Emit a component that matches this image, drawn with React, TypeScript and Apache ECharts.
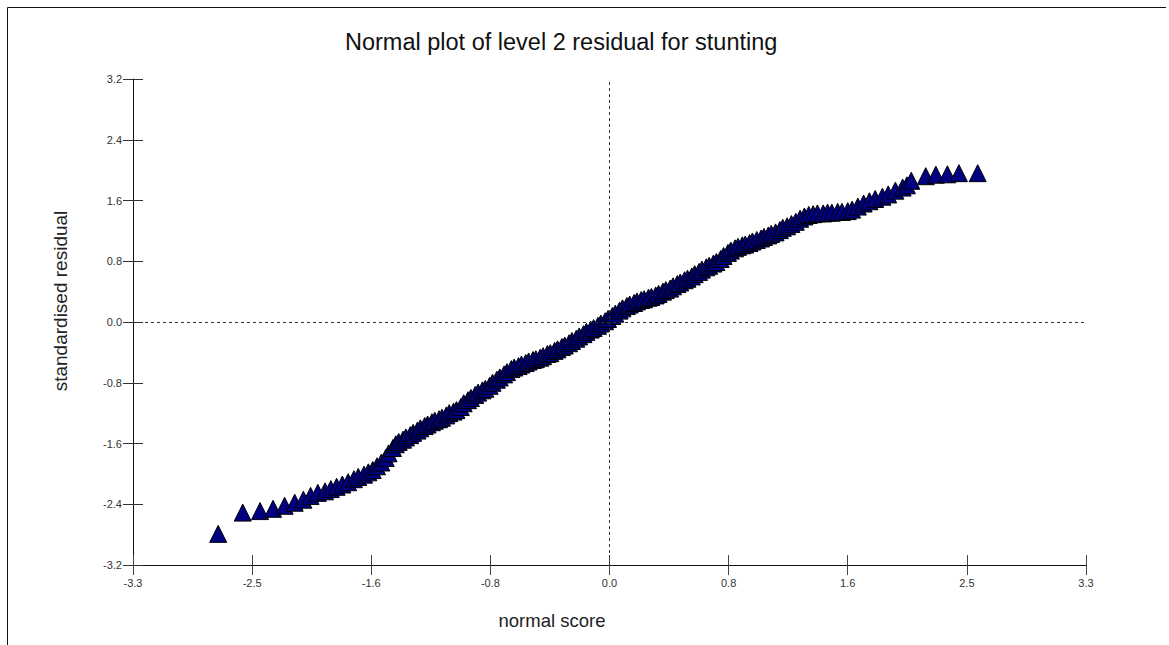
import React, { useEffect, useRef } from "react";
import * as echarts from "echarts";

// Normal scores (x) and standardised level 2 residuals (y), ordered by rank
const normalScores = [
  -2.71, -2.54, -2.42, -2.33, -2.25, -2.18, -2.12, -2.07, -2.02, -1.97,
  -1.93, -1.89, -1.85, -1.81, -1.77, -1.74, -1.7, -1.67, -1.64, -1.61,
  -1.58, -1.55, -1.53, -1.5, -1.48, -1.46, -1.43, -1.41, -1.38, -1.36,
  -1.33, -1.31, -1.28, -1.26, -1.23, -1.21, -1.18, -1.16, -1.13, -1.11,
  -1.08, -1.06, -1.03, -1.01, -0.98, -0.96, -0.93, -0.91, -0.88, -0.86,
  -0.83, -0.81, -0.78, -0.76, -0.73, -0.71, -0.68, -0.66, -0.63, -0.61,
  -0.58, -0.56, -0.53, -0.51, -0.48, -0.46, -0.43, -0.41, -0.38, -0.36,
  -0.33, -0.31, -0.28, -0.26, -0.23, -0.21, -0.18, -0.16, -0.13, -0.11,
  -0.08, -0.06, -0.03, -0.01, 0.02, 0.04, 0.07, 0.09, 0.12, 0.14,
  0.17, 0.19, 0.22, 0.24, 0.27, 0.29, 0.32, 0.34, 0.37, 0.39,
  0.42, 0.44, 0.47, 0.49, 0.52, 0.54, 0.57, 0.59, 0.62, 0.64,
  0.67, 0.69, 0.72, 0.74, 0.77, 0.79, 0.82, 0.84, 0.87, 0.89,
  0.92, 0.94, 0.97, 0.99, 1.02, 1.05, 1.07, 1.1, 1.12, 1.15,
  1.18, 1.2, 1.23, 1.26, 1.29, 1.32, 1.35, 1.38, 1.41, 1.44,
  1.48, 1.51, 1.54, 1.58, 1.61, 1.65, 1.68, 1.72, 1.76, 1.8,
  1.84, 1.89, 1.93, 1.98, 2.03, 2.06, 2.09, 2.19, 2.26, 2.34,
  2.42, 2.55,
];

const residuals = [
  -2.79, -2.51, -2.49, -2.46, -2.42, -2.38, -2.34, -2.29, -2.25, -2.23,
  -2.2, -2.17, -2.14, -2.11, -2.07, -2.04, -2.01, -1.98, -1.95, -1.9,
  -1.85, -1.79, -1.73, -1.66, -1.61, -1.58, -1.55, -1.52, -1.49, -1.46,
  -1.43, -1.4, -1.37, -1.35, -1.32, -1.3, -1.28, -1.26, -1.23, -1.2,
  -1.18, -1.16, -1.12, -1.07, -1.03, -1.0, -0.96, -0.93, -0.9, -0.88,
  -0.84, -0.8, -0.76, -0.73, -0.69, -0.66, -0.62, -0.6, -0.58, -0.56,
  -0.54, -0.52, -0.5, -0.49, -0.47, -0.45, -0.42, -0.41, -0.38, -0.36,
  -0.33, -0.31, -0.28, -0.25, -0.22, -0.19, -0.16, -0.13, -0.1, -0.08,
  -0.05, -0.02, 0.01, 0.04, 0.08, 0.11, 0.15, 0.18, 0.21, 0.23,
  0.25, 0.27, 0.29, 0.3, 0.32, 0.33, 0.35, 0.37, 0.4, 0.42,
  0.44, 0.47, 0.5, 0.52, 0.55, 0.57, 0.6, 0.63, 0.66, 0.69,
  0.72, 0.74, 0.77, 0.79, 0.83, 0.87, 0.91, 0.94, 0.97, 0.99,
  1.01, 1.02, 1.04, 1.06, 1.08, 1.1, 1.12, 1.14, 1.16, 1.18,
  1.21, 1.24, 1.26, 1.29, 1.32, 1.36, 1.39, 1.41, 1.42, 1.43,
  1.43, 1.44, 1.44, 1.45, 1.45, 1.46, 1.48, 1.52, 1.56, 1.59,
  1.62, 1.65, 1.68, 1.73, 1.77, 1.8, 1.86, 1.92, 1.94, 1.945,
  1.96, 1.96,
];

const xTickLabels = ["-3.3", "-2.5", "-1.6", "-0.8", "0.0", "0.8", "1.6", "2.5", "3.3"];
const yTickLabels = ["-3.2", "-2.4", "-1.6", "-0.8", "0.0", "0.8", "1.6", "2.4", "3.2"];

const X_MIN = -3.3;
const X_MAX = 3.3;
const X_STEP = 0.825;
const Y_MIN = -3.2;
const Y_MAX = 3.2;
const Y_STEP = 0.8;

const FONT = "'Liberation Sans', Arial, Helvetica, sans-serif";

export default function App() {
  const ref = useRef<HTMLDivElement>(null);

  useEffect(() => {
    if (!ref.current) return;
    const chart = echarts.init(ref.current, undefined, { renderer: "svg" });

    const points = normalScores.map((x, i) => [x, residuals[i]]);
    const xLabel = (v: number) => xTickLabels[Math.round((v - X_MIN) / X_STEP)] ?? "";
    const yLabel = (v: number) => yTickLabels[Math.round((v - Y_MIN) / Y_STEP)] ?? "";

    const baseX = {
      type: "value" as const,
      min: X_MIN,
      max: X_MAX,
      interval: X_STEP,
      position: "bottom" as const,
      splitLine: { show: false },
    };
    const baseY = {
      type: "value" as const,
      min: Y_MIN,
      max: Y_MAX,
      interval: Y_STEP,
      position: "left" as const,
      splitLine: { show: false },
    };

    chart.setOption({
      animation: false,
      backgroundColor: "#ffffff",
      title: {
        text: "Normal plot of level 2 residual for stunting",
        left: 345,
        top: 30,
        padding: 0,
        textStyle: {
          fontFamily: FONT,
          fontSize: 23.5,
          fontWeight: "normal",
          color: "#111111",
        },
      },
      grid: { left: 133, right: 83, top: 79, bottom: 80, containLabel: false },
      xAxis: [
        {
          ...baseX,
          axisLine: { show: true, onZero: false, lineStyle: { color: "#111111", width: 1 } },
          axisTick: { show: true, inside: false, length: 10, lineStyle: { color: "#444444" } },
          axisLabel: {
            show: true,
            margin: 12,
            fontFamily: FONT,
            fontSize: 11,
            color: "#333333",
            formatter: xLabel,
          },
        },
        {
          ...baseX,
          axisLine: { show: false, onZero: false },
          axisTick: { show: true, inside: true, length: 10, lineStyle: { color: "#444444" } },
          axisLabel: { show: false },
        },
      ],
      yAxis: [
        {
          ...baseY,
          axisLine: { show: true, onZero: false, lineStyle: { color: "#111111", width: 1 } },
          axisTick: { show: true, inside: false, length: 10, lineStyle: { color: "#333333" } },
          axisLabel: {
            show: true,
            margin: 11,
            fontFamily: FONT,
            fontSize: 11,
            color: "#333333",
            formatter: yLabel,
          },
        },
        {
          ...baseY,
          axisLine: { show: false, onZero: false },
          axisTick: { show: true, inside: true, length: 10, lineStyle: { color: "#333333" } },
          axisLabel: { show: false },
        },
      ],
      graphic: [
        {
          type: "line",
          silent: true,
          shape: { x1: 7.5, y1: 7.5, x2: 1166, y2: 7.5 },
          style: { stroke: "#111111", lineWidth: 1 },
        },
        {
          type: "line",
          silent: true,
          shape: { x1: 7.5, y1: 7.5, x2: 7.5, y2: 645 },
          style: { stroke: "#111111", lineWidth: 1 },
        },
        {
          // x-axis title
          type: "text",
          silent: true,
          x: 552,
          y: 620,
          style: {
            text: "normal score",
            fontFamily: FONT,
            fontSize: 18.5,
            fill: "#222222",
            textAlign: "center",
            textVerticalAlign: "middle",
          },
        },
        {
          // y-axis title
          type: "text",
          silent: true,
          x: 60,
          y: 301,
          rotation: Math.PI / 2,
          style: {
            text: "standardised residual",
            fontFamily: FONT,
            fontSize: 19,
            fill: "#222222",
            textAlign: "center",
            textVerticalAlign: "middle",
          },
        },
      ],
      series: [
        {
          // dotted reference lines through the origin, drawn beneath the markers
          type: "line",
          data: [],
          z: 1,
          markLine: {
            silent: true,
            symbol: ["none", "none"],
            label: { show: false },
            lineStyle: { type: [3, 3], color: "#333333", width: 1 },
            data: [{ xAxis: 0 }, { yAxis: 0 }],
          },
        },
        {
          type: "scatter",
          z: 3,
          symbol: "triangle",
          symbolSize: 17,
          itemStyle: { color: "#000080", borderColor: "#000000", borderWidth: 1, opacity: 1 },
          data: points,
        },
      ],
    });

    return () => chart.dispose();
  }, []);

  return (
    <div
      ref={ref}
      style={{ position: "fixed", left: 0, top: 0, width: 1169, height: 645, background: "#fff" }}
    />
  );
}
